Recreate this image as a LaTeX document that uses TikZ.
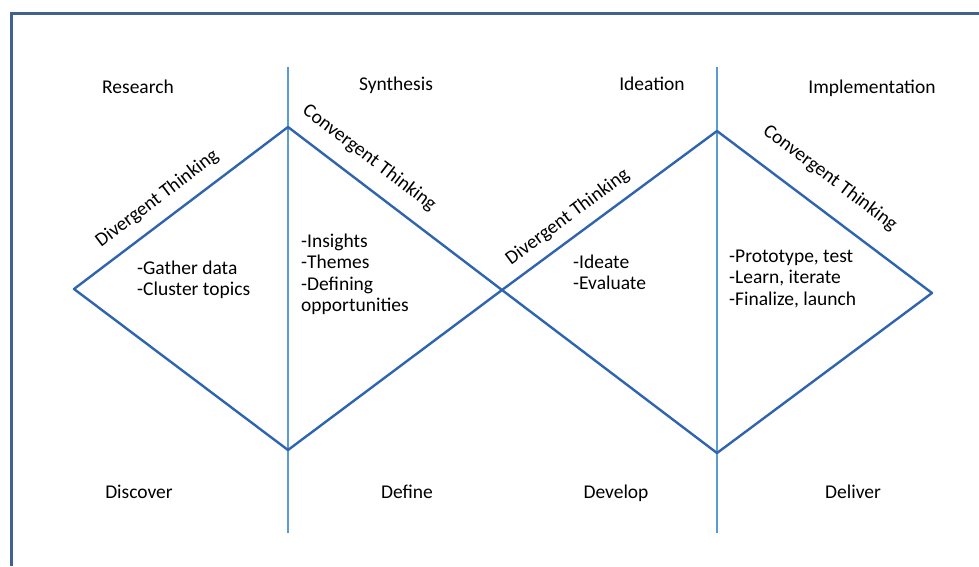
\documentclass[tikz,border=0pt]{standalone}
\usepackage{fontspec}
\setmainfont{Carlito}
\usepackage{tikz}
\usetikzlibrary{positioning}
\definecolor{framecol}{HTML}{41628F}
\definecolor{diamondcol}{HTML}{2F65AF}
\definecolor{dividercol}{HTML}{5B9BD5}

\begin{document}
\begin{tikzpicture}[x=1pt,y=-1pt,
  txt/.style={font=\fontsize{19.5}{21.5}\selectfont,inner sep=0pt,text=black},
  phase/.style={txt,anchor=base},
  notes/.style={txt,align=left,anchor=north west},
  mode/.style={txt,sloped,pos=#1},
  divider/.style={dividercol,line width=1.6pt},
  diamondline/.style={diamondcol,line width=2.4pt,line join=round}]
\useasboundingbox (0,0) rectangle (979,566);
% frame (only top and left edge visible)
\draw[framecol,line width=3pt] (979,13.5) -- (11.5,13.5) -- (11.5,566);
% dividers
\coordinate (v1a) at (288,67);
\coordinate (v1b) at (288,533);
\coordinate (v2a) at (717,67);
\coordinate (v2b) at (717,533);
\draw[divider] (v1a) -- (v1b);
\draw[divider] (v2a) -- (v2b);
% double diamond
\coordinate (lft) at (74,289);
\coordinate (top1) at (288,127);
\coordinate (bot1) at (288,450);
\coordinate (mid) at (502,290);
\coordinate (top2) at (717,131);
\coordinate (bot2) at (717,453);
\coordinate (rgt) at (932,293);
\draw[diamondline] (lft)
  -- node[mode=.45,above=12pt] (div1) {Divergent Thinking} (top1)
  -- node[mode=.31,above=15pt] (conv1) {Convergent Thinking} (mid)
  -- node[mode=.36,above=10pt] (div2) {Divergent Thinking} (top2)
  -- node[mode=.44,above=21pt] (conv2) {Convergent Thinking} (rgt)
  -- (bot2) -- (mid) -- (bot1) -- cycle;
% phase names
\node[phase] (research) at (138,93) {Research};
\node[phase] (synthesis) at (396,90) {Synthesis};
\node[phase] (ideation) at (652,90) {Ideation};
\node[phase] (implementation) at (872,93) {Implementation};
\node[phase] (discover) at (139,498) {Discover};
\node[phase] (define) at (407,498) {Define};
\node[phase] (develop) at (616,498) {Develop};
\node[phase] (deliver) at (853,498) {Deliver};
% activities
\node[notes] (gather) at (137,260.5) {-Gather data\\-Cluster topics};
\node[notes] (insights) at (301,233.5) {-Insights\\-Themes\\-Defining\\opportunities};
\node[notes] (ideate) at (573,254.5) {-Ideate\\-Evaluate};
\node[notes] (proto) at (729,249.5) {-Prototype, test\\-Learn, iterate\\-Finalize, launch};
\end{tikzpicture}
\end{document}
